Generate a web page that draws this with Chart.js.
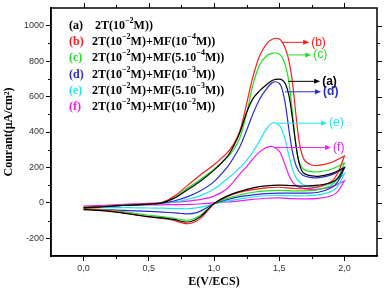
<!DOCTYPE html>
<html>
<head>
<meta charset="utf-8">
<script src="https://cdn.jsdelivr.net/npm/chart.js@4/dist/chart.umd.min.js"></script>
<style>
  body { margin: 0; background: #fff; }
  canvas { display: block; }
</style>
</head>
<body>
<canvas id="cv" width="386" height="291"></canvas>
<script>
// potential grid (V/ECS) for the forward and the reverse scan
const E_forward = [0, 0.1, 0.2, 0.3, 0.4, 0.5, 0.6, 0.7, 0.8, 0.9, 1.0, 1.1, 1.15, 1.2, 1.25, 1.3, 1.35, 1.4, 1.45, 1.5, 1.525, 1.55, 1.575, 1.6, 1.625, 1.65, 1.675, 1.7, 1.75, 1.8, 1.9, 2.0];
const E_reverse = [2.0, 1.95, 1.9, 1.8, 1.7, 1.6, 1.5, 1.4, 1.3, 1.2, 1.1, 1.0, 0.95, 0.9, 0.85, 0.8, 0.75, 0.7, 0.6, 0.5, 0.4, 0.3, 0.2, 0.1, 0];

// current (µA/cm²), forward scan
const a_fwd = [-28, -24, -20, -15, -11, -7, 0, 28, 75, 125, 185, 260, 320, 400, 510, 590, 632, 665, 692, 698, 692, 668, 605, 485, 345, 232, 180, 162, 152, 150, 165, 200];
const b_fwd = [-26, -22, -18, -14, -10, -6, 2, 40, 100, 160, 215, 282, 330, 410, 560, 715, 830, 895, 925, 926, 905, 865, 800, 690, 520, 360, 272, 235, 214, 212, 228, 265];
const c_fwd = [-26, -22, -18, -14, -10, -6, 0, 32, 85, 135, 190, 255, 300, 370, 505, 670, 780, 828, 845, 840, 818, 770, 680, 520, 340, 240, 200, 185, 176, 175, 190, 225];
const d_fwd = [-28, -24, -20, -15, -11, -7, -2, 12, 35, 70, 120, 200, 255, 320, 410, 505, 585, 640, 680, 675, 635, 545, 410, 295, 220, 180, 160, 150, 142, 142, 158, 195];
const e_fwd = [-26, -22, -18, -14, -10, -7, -3, 5, 20, 42, 78, 135, 165, 200, 240, 290, 350, 415, 452, 438, 405, 345, 265, 195, 148, 122, 107, 99, 92, 92, 110, 165];
const f_fwd = [-18, -15, -12, -9, -6, -3, 0, 4, 10, 20, 38, 80, 120, 165, 205, 250, 288, 312, 318, 292, 255, 205, 155, 120, 100, 90, 83, 79, 76, 78, 90, 125];

// current (µA/cm²), reverse scan
const a_rev = [200, 140, 115, 100, 95, 97, 100, 96, 85, 65, 38, -3, -40, -75, -98, -108, -104, -95, -85, -78, -68, -58, -48, -42, -38];
const b_rev = [265, 170, 120, 90, 80, 82, 88, 85, 75, 60, 35, -5, -45, -85, -108, -118, -112, -100, -88, -80, -68, -55, -45, -38, -35];
const c_rev = [225, 140, 100, 75, 68, 68, 70, 68, 60, 45, 25, -5, -35, -68, -88, -98, -95, -88, -78, -70, -60, -50, -42, -36, -33];
const d_rev = [195, 120, 85, 60, 55, 55, 55, 52, 45, 35, 18, -5, -25, -45, -58, -62, -60, -57, -52, -48, -45, -42, -40, -38, -37];
const e_rev = [165, 95, 65, 45, 40, 40, 42, 40, 33, 22, 10, -5, -15, -24, -30, -33, -33, -32, -30, -29, -28, -27, -27, -28, -28];
const f_rev = [125, 65, 40, 25, 22, 24, 28, 26, 20, 12, 5, 0, -3, -5, -8, -9, -10, -10, -11, -12, -13, -14, -15, -17, -20];

const curveTags = ['(a)', '(b)', '(c)', '(d)', '(e)', '(f)'];
const legendTexts = ['2T(10^-2M))', '2T(10^-2M)+MF(10^-4M))', '2T(10^-2M)+MF(5.10^-4M))',
                     '2T(10^-2M)+MF(10^-3M))', '2T(10^-2M)+MF(5.10^-3M))', '2T(10^-2M)+MF(10^-2M))'];
const colors = ['#000000', '#ff1a1a', '#1ee01e', '#2a2ad6', '#1ee6f0', '#f21af2'];
const forwards = [a_fwd, b_fwd, c_fwd, d_fwd, e_fwd, f_fwd];
const reverses = [a_rev, b_rev, c_rev, d_rev, e_rev, f_rev];

// tick values
const xTicks = [0, 0.5, 1.0, 1.5, 2.0];
const xMinor = [0.25, 0.75, 1.25, 1.75];
const yTicks = [-200, 0, 200, 400, 600, 800, 1000];
const yMinor = [-100, 100, 300, 500, 700, 900];

// arrow labels: tag, current level, arrow start / end potential
const arrowTags = ['(b)', '(c)', '(a)', '(d)', '(e)', '(f)'];
const arrowLevel = [906, 835, 686, 627, 450, 312];
const arrowFrom = [1.52, 1.556, 1.57, 1.546, 1.49, 1.457];
const arrowTo = [1.73, 1.746, 1.814, 1.821, 1.867, 1.898];

const datasets = curveTags.map((tag, i) => ({
    label: tag,
    data: E_forward.map((e, k) => ({ x: e, y: forwards[i][k] }))
        .concat(E_reverse.map((e, k) => ({ x: e, y: reverses[i][k] }))),
    borderColor: colors[i],
    borderWidth: 1.2,
    showLine: true,
    pointRadius: 0,
    tension: 0.35,
    fill: false
}));

const serif = '"Liberation Serif", "Times New Roman", serif';
const sans = '"Liberation Sans", Arial, sans-serif';

// draws text where "^-2" becomes a superscript
function drawRich(ctx, str, x, y) {
    const parts = str.split(/\^(-?\d+)/);
    parts.forEach((p, i) => {
        if (!p) return;
        let t = p;
        if (i % 2 === 1) {
            t = p.replace('-', '\u2212');
            ctx.font = 'bold 8px ' + serif;
            ctx.fillText(t, x, y - 5);
        } else {
            ctx.font = 'bold 12px ' + serif;
            ctx.fillText(t, x, y);
        }
        x += ctx.measureText(t).width;
    });
}

const extras = {
    id: 'extras',
    afterDraw(chart) {
        const { ctx, chartArea: a, scales: { x, y } } = chart;
        ctx.save();
        // frame
        ctx.strokeStyle = '#000';
        ctx.lineWidth = 1.5;
        ctx.strokeRect(a.left, a.top, a.right - a.left, a.bottom - a.top);
        // minor ticks and top / right ticks
        ctx.lineWidth = 1;
        ctx.beginPath();
        xMinor.forEach(v => {
            const p = Math.round(x.getPixelForValue(v)) + 0.5;
            ctx.moveTo(p, a.bottom); ctx.lineTo(p, a.bottom + 3);
            ctx.moveTo(p, a.top); ctx.lineTo(p, a.top - 3);
        });
        xTicks.forEach(v => {
            const p = Math.round(x.getPixelForValue(v)) + 0.5;
            ctx.moveTo(p, a.top); ctx.lineTo(p, a.top - 5);
        });
        yMinor.forEach(v => {
            const p = Math.round(y.getPixelForValue(v)) + 0.5;
            ctx.moveTo(a.left, p); ctx.lineTo(a.left - 3, p);
            ctx.moveTo(a.right, p); ctx.lineTo(a.right + 3, p);
        });
        yTicks.forEach(v => {
            const p = Math.round(y.getPixelForValue(v)) + 0.5;
            ctx.moveTo(a.right, p); ctx.lineTo(a.right + 5, p);
        });
        ctx.stroke();

        // legend block
        ctx.textBaseline = 'middle';
        ctx.textAlign = 'left';
        curveTags.forEach((tag, i) => {
            const ly = 26 + i * 16.2;
            ctx.fillStyle = colors[i];
            ctx.font = 'bold 12px ' + serif;
            ctx.fillText(tag, 69, ly);
            ctx.fillStyle = '#000';
            drawRich(ctx, legendTexts[i], i === 0 ? 95 : 92, ly);
        });

        // arrows with labels
        arrowTags.forEach((tag, i) => {
            const col = colors[curveTags.indexOf(tag)];
            const py = y.getPixelForValue(arrowLevel[i]);
            const x0 = x.getPixelForValue(arrowFrom[i]);
            const x1 = x.getPixelForValue(arrowTo[i]);
            ctx.strokeStyle = col;
            ctx.fillStyle = col;
            ctx.lineWidth = 1;
            ctx.beginPath();
            ctx.moveTo(x0, py); ctx.lineTo(x1 - 4, py);
            ctx.stroke();
            ctx.beginPath();
            ctx.moveTo(x1, py); ctx.lineTo(x1 - 6, py - 2.5); ctx.lineTo(x1 - 6, py + 2.5);
            ctx.closePath();
            ctx.fill();
            ctx.font = ((tag === '(a)' || tag === '(d)') ? 'bold ' : '') + '12px ' + sans;
            ctx.fillText(tag, x1 + 2, py);
        });
        ctx.restore();
    }
};

new Chart(document.getElementById('cv').getContext('2d'), {
    type: 'scatter',
    data: { datasets: datasets },
    plugins: [extras],
    options: {
        responsive: false,
        animation: false,
        layout: { padding: { top: 8, right: 9, left: 0, bottom: 0 } },
        plugins: { legend: { display: false }, tooltip: { enabled: false } },
        scales: {
            x: {
                type: 'linear', min: -0.25, max: 2.25,
                afterBuildTicks: s => { s.ticks = xTicks.map(v => ({ value: v })); },
                afterFit: s => { s.height = 35; },
                ticks: {
                    callback: v => v.toFixed(1).replace('.', ','),
                    font: { family: sans, size: 9 }, color: '#333',
                    padding: 2, maxRotation: 0, autoSkip: false
                },
                grid: { drawOnChartArea: false, drawTicks: true, tickLength: 5, tickColor: '#000', tickWidth: 1 },
                border: { display: true, color: '#000', width: 1.5 },
                title: {
                    display: true, text: 'E(V/ECS)', color: '#000',
                    font: { family: serif, size: 12, weight: 'bold' },
                    padding: { top: 0, bottom: 2 }
                }
            },
            y: {
                type: 'linear', min: -300, max: 1100,
                afterBuildTicks: s => { s.ticks = yTicks.map(v => ({ value: v })); },
                afterFit: s => { s.width = 51; },
                ticks: {
                    callback: v => String(v),
                    font: { family: sans, size: 9 }, color: '#333',
                    padding: 2, autoSkip: false
                },
                grid: { drawOnChartArea: false, drawTicks: true, tickLength: 5, tickColor: '#000', tickWidth: 1 },
                border: { display: true, color: '#000', width: 1.5 },
                title: {
                    display: true, text: 'Courant(\u03bcA/cm\u00b2)', color: '#000',
                    font: { family: serif, size: 12, weight: 'bold' },
                    padding: { top: 2, bottom: 0 }
                }
            }
        }
    }
});
</script>
</body>
</html>
